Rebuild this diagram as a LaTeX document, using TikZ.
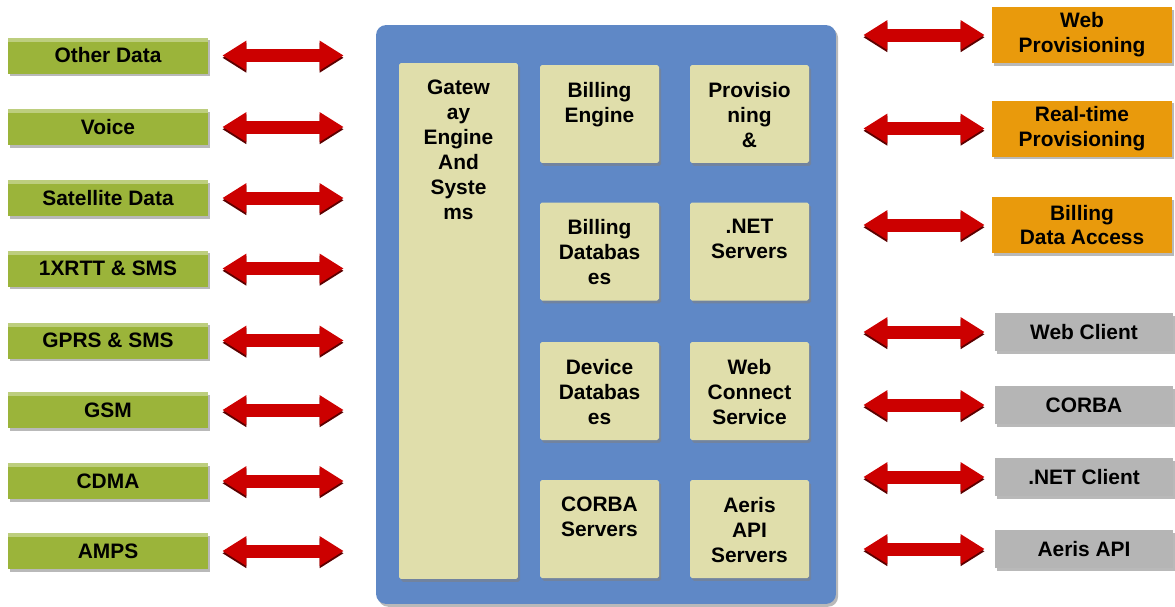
\documentclass[tikz,border=0pt]{standalone}
\usepackage{fontspec}
\setmainfont{Liberation Sans}
\usetikzlibrary{arrows.meta,shadows}

\definecolor{hubblue}{HTML}{5F88C6}
\definecolor{panelbeige}{HTML}{E0DEAB}
\definecolor{feedgreen}{HTML}{9BB43A}
\definecolor{portorange}{HTML}{E99A0C}
\definecolor{clientgray}{HTML}{B5B5B5}
\definecolor{linkred}{HTML}{CC0000}

\tikzset{
  boxtext/.style={font=\fontsize{11.9}{14.2}\selectfont\bfseries, align=center},
  shade3d/.style={drop shadow={shadow xshift=1.2pt, shadow yshift=-1.6pt, opacity=0.55}},
  feed/.style={boxtext, inner sep=0pt, fill=feedgreen, shade3d,
    minimum width=4cm, minimum height=0.72cm,
    path picture={\fill[white, opacity=0.35] (path picture bounding box.north west)
      rectangle ([yshift=-2.5pt]path picture bounding box.north east);}},
  port/.style={boxtext, inner sep=0pt, fill=portorange, shade3d,
    minimum width=3.6cm, minimum height=1.12cm},
  client/.style={boxtext, inner sep=0pt, fill=clientgray, shade3d,
    minimum width=3.56cm, minimum height=0.76cm},
  hubbox/.style={fill=hubblue, rounded corners=0.2cm, shade3d,
    minimum width=9.2cm, minimum height=11.58cm},
  panel/.style={fill=panelbeige, rounded corners=1pt, shade3d,
    minimum width=2.38cm, minimum height=1.96cm},
  paneltext/.style={boxtext, anchor=north, inner sep=0pt, yshift=-0.34cm},
  link/.style={line width=0.26cm, draw=linkred,
    {Triangle[length=0.48cm, width=0.56cm]}-{Triangle[length=0.48cm, width=0.56cm]},
    preaction={draw=linkred!45!black, transform canvas={yshift=-1.3pt}}}
}

\begin{document}
\begin{tikzpicture}[x=0.02cm, y=-0.02cm]
\useasboundingbox (0,0) rectangle (1175,606);

% central platform
\node[hubbox] (hub) at (606,314.5) {};
\node[panel, minimum height=10.32cm] (gateway) at (458.5,321) {};
\node[paneltext] at (gateway.north) {Gatew\\ay\\Engine\\And\\Syste\\ms};

\node[panel] (billeng) at (599.5,114) {};
\node[paneltext] at (billeng.north) {Billing\\Engine};
\node[panel] (prov) at (749.5,114) {};
\node[paneltext] at (prov.north) {Provisio\\ning\\\&};

\node[panel] (billdb) at (599.5,251.5) {};
\node[paneltext] at (billdb.north) {Billing\\Databas\\es};
\node[panel] (netsrv) at (749.5,251.5) {};
\node[paneltext] at (netsrv.north) {.NET\\Servers};

\node[panel] (devdb) at (599.5,391) {};
\node[paneltext] at (devdb.north) {Device\\Databas\\es};
\node[panel] (webconn) at (749.5,391) {};
\node[paneltext] at (webconn.north) {Web\\Connect\\Service};

\node[panel] (corbasrv) at (599.5,529) {};
\node[paneltext] at (corbasrv.north) {CORBA\\Servers};
\node[panel] (apisrv) at (749.5,529) {};
\node[paneltext] at (apisrv.north) {Aeris\\API\\Servers};

% networks on the left
\foreach \name/\txt/\y in {odata/Other Data/55.5, voice/Voice/127, satdata/Satellite Data/198,
    xrtt/1XRTT \& SMS/268.5, gprs/GPRS \& SMS/340.5, gsm/GSM/410, cdma/CDMA/481, amps/AMPS/551}
{
  \node[feed] (\name) at (108,\y) {\txt};
  \draw[link, shorten <=0.28cm, shorten >=0.64cm] (\name.east) -- (\name.east -| hub.west);
}

% provisioning interfaces on the right
\node[port] (webprov) at (1082,35) {Web\\Provisioning};
\node[port] (rtprov) at (1082,128.5) {Real-time\\Provisioning};
\node[port] (billacc) at (1082,225) {Billing\\Data Access};

% client interfaces on the right
\node[client] (webcli) at (1084,332) {Web Client};
\node[client] (corba) at (1084,405) {CORBA};
\node[client] (netcli) at (1084,477) {.NET Client};
\node[client] (aeris) at (1084,549) {Aeris API};

\foreach \name in {webprov, rtprov, billacc}
  \draw[link, shorten <=0.54cm, shorten >=0.14cm] (\name.west -| hub.east) -- (\name.west);
\foreach \name in {webcli, corba, netcli, aeris}
  \draw[link, shorten <=0.54cm, shorten >=0.2cm] (\name.west -| hub.east) -- (\name.west);
\end{tikzpicture}
\end{document}
